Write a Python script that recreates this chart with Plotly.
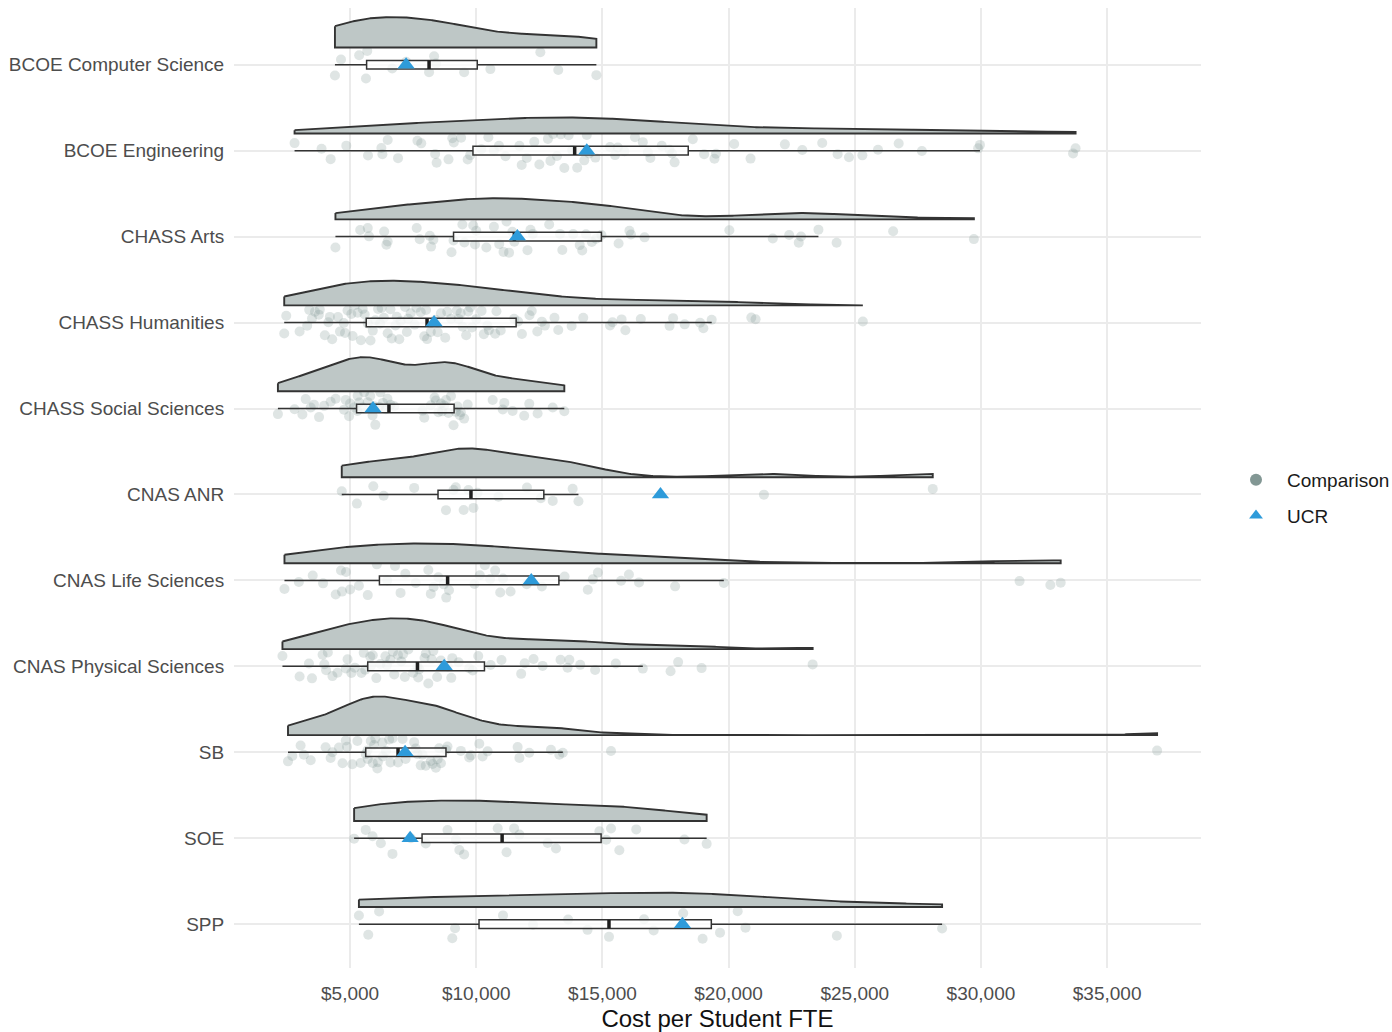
import numpy as np
import plotly.graph_objects as go

# Cost per student FTE at comparison institutions, in $ thousands
categories = [
    "BCOE Computer Science", "BCOE Engineering", "CHASS Arts", "CHASS Humanities",
    "CHASS Social Sciences", "CNAS ANR", "CNAS Life Sciences", "CNAS Physical Sciences",
    "SB", "SOE", "SPP",
]

bcoe_cs = [4.40, 4.64, 5.36, 5.63, 5.68, 6.67, 7.22, 8.13, 8.33, 8.41, 9.52, 10.56,
           12.54, 13.25, 14.76]

bcoe_eng = [2.80, 3.87, 4.23, 4.85, 5.71, 6.24, 6.28, 6.49, 6.90, 7.67, 7.82, 8.37, 8.43,
            8.90, 9.05, 9.11, 9.40, 9.66, 9.76, 10.20, 10.48, 10.70, 10.90, 11.16, 11.71,
            11.80, 12.00, 12.30, 12.50, 12.84, 12.94, 13.05, 13.20, 13.35, 13.49, 13.66,
            13.80, 14.00, 14.10, 14.28, 14.38, 14.48, 14.72, 15.30, 15.50, 15.61, 15.87,
            16.29, 16.60, 16.80, 16.90, 17.35, 17.66, 17.76, 17.86, 18.58, 19.03, 19.44,
            19.50, 20.22, 20.87, 22.23, 22.92, 23.71, 24.32, 24.77, 25.30, 25.92, 26.74,
            27.66, 29.89, 29.96, 33.65, 33.75]

chass_arts = [4.42, 5.40, 5.70, 5.75, 6.35, 6.44, 6.49, 7.64, 7.76, 8.16, 8.21, 8.30, 9.02,
              9.10, 9.45, 9.53, 9.88, 9.95, 10.00, 10.40, 10.70, 10.91, 11.08, 11.20, 11.30,
              11.43, 11.51, 12.03, 12.15, 12.24, 12.89, 13.32, 13.41, 13.84, 14.10, 14.20,
              14.35, 14.58, 14.75, 14.96, 15.64, 16.07, 16.13, 16.67, 20.03, 21.75, 22.40,
              22.78, 22.87, 23.56, 24.28, 26.52, 29.72]

chass_hum = [2.39, 2.47, 3.00, 3.30, 3.38, 3.49, 3.61, 3.76, 3.80, 4.00, 4.14, 4.20, 4.29,
             4.52, 4.60, 4.75, 4.80, 4.90, 5.05, 5.10, 5.20, 5.30, 5.43, 5.50, 5.58, 5.70,
             5.81, 5.90, 6.00, 6.11, 6.19, 6.25, 6.34, 6.49, 6.60, 6.65, 6.80, 6.85, 6.95,
             7.00, 7.18, 7.25, 7.30, 7.40, 7.56, 7.63, 7.80, 7.94, 8.01, 8.05, 8.20, 8.39,
             8.47, 8.60, 8.77, 8.85, 9.00, 9.23, 9.30, 9.38, 9.46, 9.60, 9.68, 9.76, 9.83,
             10.00, 10.21, 10.30, 10.44, 10.50, 10.75, 10.80, 10.97, 11.50, 11.66, 11.81,
             12.11, 12.20, 12.42, 12.60, 12.72, 13.10, 13.25, 13.78, 14.24, 15.30, 15.40,
             15.76, 15.91, 16.52, 17.66, 17.80, 18.26, 18.87, 19.00, 19.33, 20.90, 21.07,
             25.32]

chass_soc = [2.14, 2.80, 3.11, 3.24, 3.44, 3.57, 3.77, 3.97, 4.23, 4.43, 4.76, 4.83, 4.96,
             5.00, 5.16, 5.29, 5.30, 5.36, 5.50, 5.56, 5.70, 5.80, 5.89, 5.95, 6.00, 6.15,
             6.20, 6.30, 6.42, 6.48, 6.60, 6.75, 7.87, 7.94, 8.20, 8.35, 8.40, 8.50, 8.60,
             8.65, 8.73, 8.80, 8.90, 9.00, 9.10, 9.19, 9.26, 9.35, 9.39, 9.52, 9.66, 10.65,
             11.05, 11.11, 11.44, 11.90, 12.10, 12.43, 13.03, 13.49]

cnas_anr = [4.67, 5.27, 5.92, 6.33, 7.54, 8.80, 9.10, 9.19, 9.50, 9.69, 9.89, 10.05, 10.88,
            12.01, 12.56, 13.03, 13.82, 14.05, 21.40, 28.09]

cnas_life = [2.40, 2.97, 3.52, 3.93, 4.43, 4.64, 4.68, 4.84, 5.00, 5.35, 5.70, 6.06, 6.47,
             6.78, 7.00, 7.19, 7.60, 8.10, 8.20, 8.31, 8.50, 8.71, 8.81, 8.92, 9.93, 10.14,
             10.34, 10.55, 10.75, 10.95, 11.06, 11.36, 12.00, 12.60, 13.50, 14.42, 14.62,
             14.82, 15.74, 16.05, 16.45, 17.88, 19.81, 31.53, 32.75, 33.16]

cnas_phys = [2.32, 3.00, 3.37, 3.49, 3.91, 3.98, 4.05, 4.12, 4.30, 4.50, 4.83, 4.90, 5.05,
             5.19, 5.45, 5.54, 5.60, 5.80, 5.83, 5.90, 6.04, 6.20, 6.40, 6.46, 6.60, 6.70,
             6.75, 6.90, 7.03, 7.10, 7.17, 7.31, 7.50, 7.67, 7.70, 7.74, 7.95, 8.00, 8.10,
             8.23, 8.30, 8.45, 8.60, 8.87, 9.01, 9.05, 9.30, 9.72, 9.86, 10.08, 10.57, 11.00,
             11.78, 11.92, 12.27, 12.63, 13.34, 13.62, 13.69, 14.12, 14.71, 15.53, 16.60,
             17.70, 18.00, 18.93, 23.33]

sb = [2.54, 2.71, 3.04, 3.17, 3.44, 4.03, 4.23, 4.30, 4.56, 4.70, 4.83, 4.88, 5.09, 5.29,
      5.42, 5.62, 5.69, 5.70, 5.82, 5.90, 5.95, 6.00, 6.08, 6.10, 6.28, 6.30, 6.42, 6.55,
      6.60, 6.68, 6.90, 7.08, 7.20, 7.54, 7.60, 7.67, 7.80, 7.87, 8.00, 8.20, 8.27, 8.40,
      8.47, 8.53, 8.60, 8.80, 8.86, 9.39, 9.72, 9.79, 10.12, 10.25, 10.45, 11.64, 11.71,
      12.10, 12.96, 13.29, 13.43, 15.34, 36.98]

soe = [5.16, 5.62, 5.89, 6.22, 6.68, 7.41, 8.00, 8.86, 9.19, 9.33, 9.52, 10.85, 11.20,
       11.50, 11.71, 12.83, 13.16, 14.88, 15.15, 15.34, 15.67, 16.34, 18.25, 19.13]

spp = [5.35, 5.72, 6.15, 9.05, 9.16, 11.06, 12.25, 13.64, 14.41, 15.26, 16.65, 17.03, 18.20,
       18.97, 19.66, 20.36, 20.67, 24.29, 28.46]

# UCR's own cost per student FTE, $ thousands
ucr = [7.22, 14.38, 11.63, 8.33, 5.91, 17.30, 12.18, 8.73, 7.18, 7.38, 18.17]

x_ticks = [5000, 10000, 15000, 20000, 25000, 30000, 35000]
x_tick_labels = [f"${v:,}" for v in x_ticks]

groups = [bcoe_cs, bcoe_eng, chass_arts, chass_hum, chass_soc, cnas_anr, cnas_life,
          cnas_phys, sb, soe, spp]

# ---------------------------------------------------------------------------
FONT = "Liberation Sans, Arial, Helvetica, sans-serif"
GREY_PT = "rgba(127,151,148,0.25)"
GREY_KEY = "#829794"
BLUE = "#2E9BDA"
DARK = "#333333"
VIOLIN_FILL = "#BEC7C6"

NUDGE = 0.2      # violin baseline offset above the category line
VMAX = 0.45      # tallest half-violin height (category units)
BOX_W = 0.1
JITTER_W = 0.45

n_cat = len(categories)
positions = [n_cat - i for i in range(n_cat)]   # first category at the top
dollars = [np.asarray(g, dtype=float) * 1000 for g in groups]


def kde_nrd0(v, n=512):
    """Gaussian KDE with R's bw.nrd0, trimmed to the data range."""
    q1, q3 = np.percentile(v, [25, 75])
    bw = 0.9 * min(v.std(ddof=1), (q3 - q1) / 1.34) * len(v) ** -0.2
    grid = np.linspace(v.min(), v.max(), n)
    z = (grid[:, None] - v[None, :]) / bw
    d = np.exp(-0.5 * z ** 2).sum(axis=1) / (len(v) * bw * np.sqrt(2 * np.pi))
    return grid, d


def box_stats(v):
    q1, med, q3 = np.percentile(v, [25, 50, 75])
    iqr = q3 - q1
    lo = v[v >= q1 - 1.5 * iqr].min()
    hi = v[v <= q3 + 1.5 * iqr].max()
    return q1, med, q3, lo, hi


fig = go.Figure()

# half violins ("clouds"), area-scaled across all groups
dens = [kde_nrd0(v) for v in dollars]
dmax = max(d.max() for _, d in dens)
for pos, (grid, d) in zip(positions, dens):
    base = pos + NUDGE
    top = base + VMAX * d / dmax
    xs = np.concatenate([grid, grid[::-1], grid[:1]])
    ys = np.concatenate([top, np.full(len(grid), base), top[:1]])
    fig.add_trace(go.Scatter(
        x=xs, y=ys, mode="lines", fill="toself", fillcolor=VIOLIN_FILL,
        line=dict(color=DARK, width=1.9), showlegend=False, hoverinfo="skip",
    ))

# jittered comparison points ("rain")
pts_x = np.concatenate(dollars)
pts_y = np.concatenate([np.full(len(v), p, dtype=float) for v, p in zip(dollars, positions)])
fig.add_trace(go.Box(
    x=pts_x, y=pts_y, orientation="h", boxpoints="all", jitter=1.0, pointpos=0,
    width=JITTER_W, line=dict(width=0), fillcolor="rgba(0,0,0,0)",
    marker=dict(color=GREY_PT, size=10), showlegend=False, hoverinfo="x",
))

# narrow box plots
stats = [box_stats(v) for v in dollars]
fig.add_trace(go.Box(
    y=positions, orientation="h",
    q1=[s[0] for s in stats], median=[s[1] for s in stats], q3=[s[2] for s in stats],
    lowerfence=[s[3] for s in stats], upperfence=[s[4] for s in stats],
    width=BOX_W, whiskerwidth=0, boxpoints=False,
    fillcolor="rgba(255,255,255,0.75)", line=dict(color=DARK, width=1.5),
    showlegend=False, hoverinfo="skip",
))

# heavier median bars
med_x, med_y = [], []
for s, p in zip(stats, positions):
    med_x += [s[1], s[1], None]
    med_y += [p - BOX_W / 2, p + BOX_W / 2, None]
fig.add_trace(go.Scatter(
    x=med_x, y=med_y, mode="lines", line=dict(color="#1f1f1f", width=3.5),
    showlegend=False, hoverinfo="skip",
))

# legend key for the comparison points
fig.add_trace(go.Scatter(
    x=[None], y=[None], mode="markers", name="Comparison", legendgroup="cmp",
    marker=dict(color=GREY_KEY, size=10, symbol="circle"),
))

# UCR values
fig.add_trace(go.Scatter(
    x=np.asarray(ucr) * 1000, y=positions, mode="markers", name="UCR", legendgroup="ucr",
    marker=dict(color=BLUE, size=15, symbol="triangle-up"),
))

fig.update_layout(
    width=1392, height=1032,
    margin=dict(l=234, r=191, t=8, b=64),
    paper_bgcolor="white", plot_bgcolor="white",
    font=dict(family=FONT, color="#000000"),
    boxmode="overlay",
    legend=dict(
        xref="container", yref="container",
        x=1225 / 1392, y=1 - 498 / 1032, xanchor="left", yanchor="middle",
        font=dict(family=FONT, size=19, color="#1a1a1a"),
        tracegroupgap=8, itemwidth=52, bgcolor="rgba(0,0,0,0)", itemsizing="constant",
    ),
    xaxis=dict(
        range=[400, 38720], tickvals=x_ticks, ticktext=x_tick_labels,
        showgrid=True, gridcolor="#EBEBEB", gridwidth=1.5, zeroline=False,
        showline=False, ticks="outside", ticklen=8, tickcolor="rgba(0,0,0,0)",
        tickfont=dict(family=FONT, size=19, color="#4D4D4D"),
        title=dict(text="Cost per Student FTE", standoff=10,
                   font=dict(family=FONT, size=24, color="#111111")),
        automargin=False,
    ),
    yaxis=dict(
        range=[0.49, 11.66], tickvals=positions, ticktext=categories,
        showgrid=True, gridcolor="#EBEBEB", gridwidth=1.5, zeroline=False,
        showline=False, ticks="outside", ticklen=5, tickcolor="rgba(0,0,0,0)",
        tickfont=dict(family=FONT, size=19, color="#4D4D4D"),
        automargin=False,
    ),
)

fig.write_html("out.html")
